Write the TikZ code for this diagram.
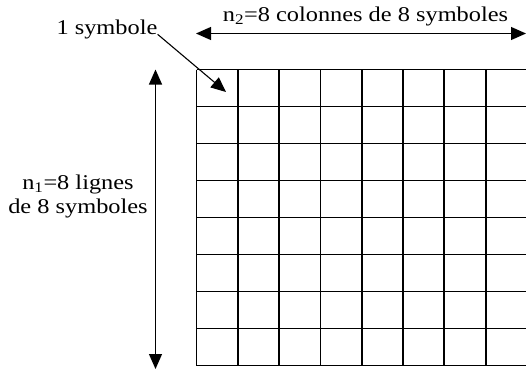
\documentclass[tikz,border=0pt]{standalone}
\usepackage{fontspec}
\setmainfont{Liberation Serif}[FakeStretch=1.16]
\usetikzlibrary{arrows.meta}

\begin{document}
\begin{tikzpicture}[
    x=1pt, y=-1pt,
    cell/.style={line width=1.8pt},
    fleche/.style={line width=1.1pt},
    lbl/.style={font=\fontsize{21}{24}\selectfont, inner sep=0pt},
    >={Triangle[length=15pt,width=13pt]}
]

\useasboundingbox (0,0) rectangle (526,372);

% Grille de 8x8 symboles
\foreach \i in {0,...,8} {
  \draw[cell] (196.5+41.3*\i,69.5) -- (196.5+41.3*\i,365.5);
  \draw[cell] (196.5,69.5+37*\i) -- (526.9,69.5+37*\i);
}

% Textes
\node[lbl, anchor=base] (colonnes) at (365.5,21) {n\textsubscript{2}=8 colonnes de 8 symboles};
\node[lbl, anchor=base] (symbole) at (107,34.3) {1 symbole};
\node[lbl, anchor=base, align=center] (lignes) at (78,213) {n\textsubscript{1}=8 lignes\\de 8 symboles};

% Extremites des fleches
\coordinate (hg) at (196,33.5);
\coordinate (hd) at (526,33.5);
\coordinate (vh) at (155.5,69.5);
\coordinate (vb) at (155.5,369);
\coordinate (case) at (226,92);

% Fleches
\draw[fleche, <->] (hg) -- (hd);
\draw[fleche, <->] (vh) -- (vb);
\draw[fleche, ->] (symbole.base east) -- (case);

\end{tikzpicture}
\end{document}
